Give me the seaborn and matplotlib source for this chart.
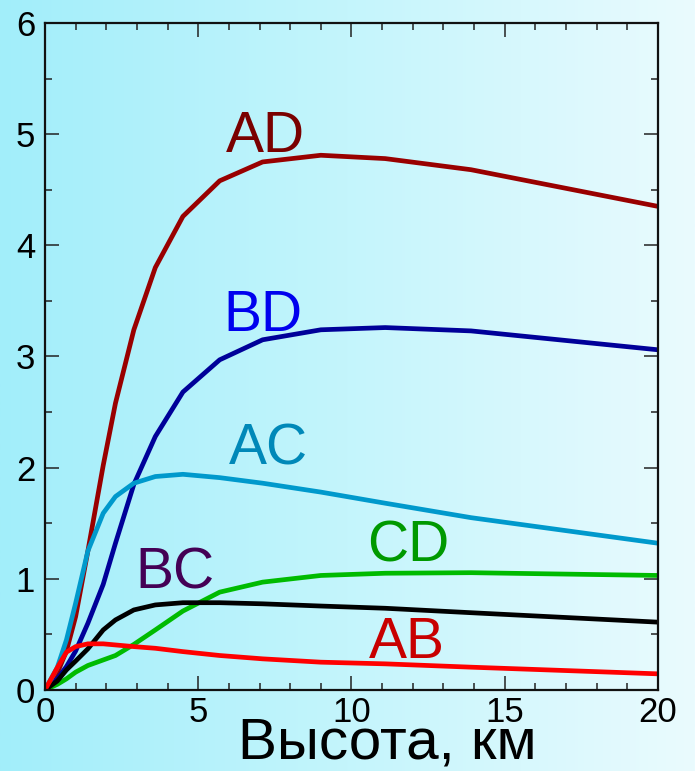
import numpy as np
import pandas as pd
import matplotlib
matplotlib.use("Agg")
import matplotlib.pyplot as plt
import seaborn as sns
from matplotlib.colors import LinearSegmentedColormap
from matplotlib.ticker import MultipleLocator

# Altitude grid (km)
altitude = [0, 0.4, 0.7, 1.0, 1.4, 1.9, 2.3, 2.9, 3.6, 4.5, 5.7, 7.1, 9.0, 11.1, 13.9, 20]

AD = [0, 0.15, 0.35, 0.66, 1.25, 2.02, 2.58, 3.24, 3.80, 4.26, 4.58, 4.75, 4.81, 4.78, 4.68, 4.35]
BD = [0, 0.10, 0.21, 0.35, 0.60, 0.95, 1.32, 1.85, 2.28, 2.68, 2.97, 3.15, 3.24, 3.26, 3.23, 3.06]
AC = [0, 0.20, 0.45, 0.78, 1.25, 1.59, 1.74, 1.86, 1.92, 1.94, 1.91, 1.86, 1.78, 1.68, 1.55, 1.32]
CD = [0, 0.05, 0.10, 0.16, 0.22, 0.27, 0.31, 0.41, 0.54, 0.71, 0.88, 0.97, 1.03, 1.05, 1.055, 1.03]
BC = [0, 0.08, 0.18, 0.26, 0.37, 0.54, 0.63, 0.72, 0.765, 0.785, 0.785, 0.775, 0.755, 0.735, 0.695, 0.61]
AB = [0, 0.20, 0.34, 0.39, 0.415, 0.415, 0.405, 0.39, 0.375, 0.345, 0.31, 0.28, 0.25, 0.235, 0.205, 0.145]

series = {"AD": AD, "BD": BD, "AC": AC, "CD": CD, "BC": BC, "AB": AB}
line_colors = {"AD": "#990000", "BD": "#000099", "AC": "#0099cc",
               "CD": "#00bb00", "BC": "#000000", "AB": "#ff0000"}
text_colors = {"AD": "#7a0000", "BD": "#0000ee", "AC": "#0088b8",
               "CD": "#009900", "BC": "#440055", "AB": "#c80000"}
label_pos = {"AD": (7.18, 4.97), "BD": (7.11, 3.36), "AC": (7.28, 2.16),
             "CD": (11.84, 1.29), "BC": (4.24, 1.05), "AB": (11.81, 0.42)}

df = pd.concat(
    [pd.DataFrame({"alt": altitude, "val": v, "pair": k}) for k, v in series.items()],
    ignore_index=True,
)

sns.set_style("ticks")
plt.rcParams["font.family"] = ["Liberation Sans", "DejaVu Sans"]

fig = plt.figure(figsize=(6.95, 7.71), dpi=100)

# horizontal cyan-to-white background gradient
bg = fig.add_axes([0, 0, 1, 1], zorder=-10)
cmap = LinearSegmentedColormap.from_list("bg", ["#a2eefa", "#c4f5fc", "#eafbfe"])
bg.imshow(np.linspace(0, 1, 256)[None, :], aspect="auto", cmap=cmap,
          extent=[0, 1, 0, 1])
bg.set_axis_off()

ax = fig.add_axes([0.0647, 0.1051, 0.8821, 0.8651])
ax.patch.set_alpha(0)

sns.lineplot(data=df, x="alt", y="val", hue="pair", palette=line_colors,
             estimator=None, sort=False, linewidth=3.4, legend=False, ax=ax)

for k, (tx, ty) in label_pos.items():
    ax.text(tx, ty, k, color=text_colors[k], fontsize=41, ha="center",
            va="center")

ax.set_xlim(0, 20)
ax.set_ylim(0, 6)
ax.xaxis.set_major_locator(MultipleLocator(5))
ax.xaxis.set_minor_locator(MultipleLocator(1))
ax.yaxis.set_major_locator(MultipleLocator(1))
ax.yaxis.set_minor_locator(MultipleLocator(0.5))
ax.tick_params(which="both", direction="in", top=True, right=True,
               color="#222222", width=1.1)
ax.tick_params(which="major", length=10, labelsize=25, labelcolor="black")
ax.tick_params(axis="y", which="major", pad=7)
ax.tick_params(axis="x", which="major", pad=4)
ax.tick_params(which="minor", length=5)
for s in ax.spines.values():
    s.set_linewidth(1.6)
    s.set_color("#111111")

ax.set_ylabel("")
ax.set_xlabel("")
fig.text(0.557, 0.0, "Высота, км", fontsize=42, ha="center", va="bottom",
         color="black")

fig.savefig("out.png", dpi=100)
